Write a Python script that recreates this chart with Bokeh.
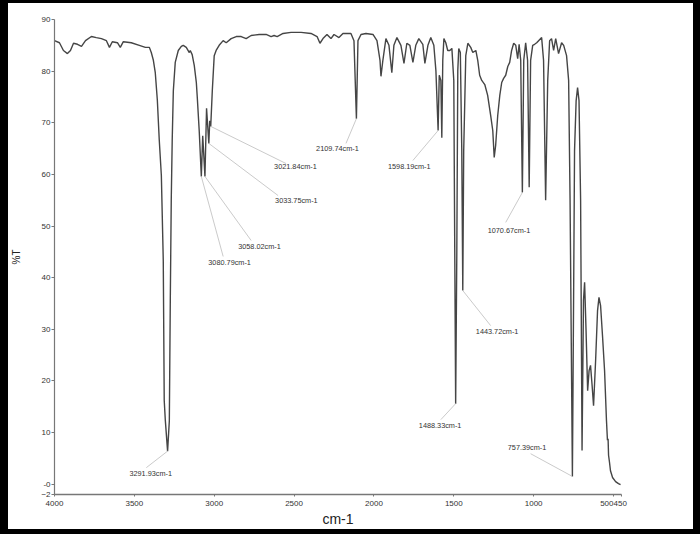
from bokeh.plotting import figure
from bokeh.models import Range1d, FixedTicker, ColumnDataSource
from bokeh.core.properties import value
from bokeh.embed import file_html
from bokeh.resources import INLINE

# ---- spectrum data (wavenumber cm-1, %T) ----
wavenumber = [4000, 3969, 3944, 3919, 3900, 3881, 3856, 3831, 3806, 3769, 3738, 3706, 3675, 3656,
              3638, 3606, 3588, 3569, 3519, 3469, 3431, 3406, 3394, 3381, 3369, 3356, 3344, 3331,
              3319, 3313, 3306, 3291.93, 3281, 3275, 3269, 3263, 3256, 3244, 3225, 3206, 3194,
              3175, 3156, 3150, 3138, 3125, 3112, 3106, 3094, 3080.79, 3072, 3058.02, 3048,
              3033.75, 3028, 3021.84, 3012, 3000, 2988, 2969, 2944, 2925, 2894, 2862, 2831, 2800,
              2769, 2719, 2675, 2644, 2625, 2606, 2569, 2519, 2456, 2394, 2356, 2338, 2319, 2294,
              2269, 2250, 2219, 2194, 2144, 2125, 2109.74, 2100, 2081, 2050, 2006, 1981, 1962,
              1956, 1944, 1925, 1906, 1888, 1875, 1856, 1831, 1812, 1794, 1775, 1756, 1738, 1719,
              1694, 1681, 1662, 1644, 1625, 1612, 1598.19, 1591, 1581, 1575, 1569, 1562, 1550,
              1538, 1525, 1512, 1500, 1494, 1488.33, 1481, 1475, 1469, 1459, 1450, 1443.72, 1438,
              1425, 1412, 1394, 1381, 1362, 1350, 1338, 1325, 1306, 1288, 1269, 1256, 1247, 1238,
              1225, 1212, 1200, 1188, 1175, 1162, 1150, 1138, 1125, 1112, 1100, 1091, 1081,
              1070.67, 1062, 1050, 1038, 1028, 1019, 1006, 994, 981, 969, 950, 938, 925, 912, 900,
              888, 875, 862, 844, 825, 812, 794, 781, 772, 757.39, 750, 744, 734, 725, 716, 706,
              697, 688, 681, 672, 662, 653, 644, 634, 625, 612, 600, 591, 581, 569, 556, 544, 538,
              534, 531, 525, 519, 506, 487, 469, 456]
transmittance = [85.9, 85.5, 84.0, 83.4, 84.0, 85.4, 85.2, 84.8, 85.9, 86.7, 86.5, 86.3, 85.9, 84.6,
                 85.7, 85.5, 84.6, 85.7, 85.5, 85.0, 84.6, 84.6, 83.6, 82.1, 79.7, 74.3, 66.6, 59.8,
                 43.3, 16.2, 12.3, 6.4, 12.3, 35.6, 55.0, 66.6, 76.2, 81.7, 84.0, 84.8, 85.0,
                 84.6, 83.6, 84.0, 83.2, 81.1, 77.8, 74.9, 68.5, 59.6, 67.5, 59.6, 72.8,
                 66.0, 70.4, 69.3, 76.2, 83.0, 84.0, 85.0, 85.9, 85.5, 86.3, 86.7, 86.7, 86.3,
                 86.9, 87.1, 87.1, 86.7, 86.9, 86.7, 87.3, 87.5, 87.5, 87.3, 86.7, 85.4, 86.3, 87.1,
                 86.3, 87.1, 86.5, 87.3, 87.3, 85.9, 70.8, 85.9, 87.1, 87.3, 87.1, 85.9, 82.1,
                 79.0, 82.1, 86.3, 85.0, 79.7, 85.0, 86.5, 85.0, 81.5, 85.4, 85.0, 81.7, 85.0, 86.3,
                 85.2, 81.5, 85.0, 86.5, 85.0, 80.1, 68.5, 79.2, 78.2, 67.1, 82.1, 86.3, 85.5,
                 84.0, 84.0, 84.4, 78.2, 45.3, 15.6, 45.3, 80.1, 84.4, 83.6, 64.6, 37.5, 64.6,
                 83.0, 85.4, 84.6, 83.6, 84.0, 82.1, 79.2, 78.2, 77.4, 75.3, 71.4, 68.5, 63.3, 65.6,
                 71.4, 75.3, 77.8, 78.6, 79.2, 80.9, 81.7, 84.0, 85.4, 85.0, 82.4, 85.2, 82.1,
                 56.5, 82.1, 85.5, 82.1, 57.5, 82.1, 85.0, 85.2, 85.5, 85.9, 86.5, 82.1, 55.0, 78.2, 85.9,
                 86.3, 84.0, 86.3, 83.4, 85.5, 85.0, 83.0, 78.2, 55.0, 1.5, 35.6, 64.6, 74.3, 76.8, 74.3, 55.0,
                 6.5, 35.6, 39.1, 29.8, 18.1, 22.0, 23.0, 19.1, 15.2, 24.0, 33.6, 36.2, 34.6, 28.8, 22.0, 12.3, 8.5,
                 8.8, 5.6, 4.2, 2.6, 1.3, 0.5, 0.1, -0.1]

# ---- peak annotations ----
peak_wn = [3291.93, 3080.79, 3058.02, 3033.75, 3021.84, 2109.74, 1598.19, 1488.33, 1443.72, 1070.67, 757.39]
peak_t = [6.4, 59.6, 59.6, 66.0, 69.3, 70.8, 68.5, 15.6, 37.5, 56.5, 1.5]
peak_labels = ["3291.93cm-1", "3080.79cm-1", "3058.02cm-1", "3033.75cm-1", "3021.84cm-1",
               "2109.74cm-1", "1598.19cm-1", "1488.33cm-1", "1443.72cm-1", "1070.67cm-1", "757.39cm-1"]

# label placement (layout, in axis units)
label_x = [3531, 3037, 2850, 2619, 2625, 2362, 1912, 1719, 1362, 1288, 1162]
label_y = [2.1, 42.9, 46.0, 54.9, 61.5, 65.0, 61.5, 11.4, 29.6, 49.1, 7.1]
leader_x = [3425, 2944, 2769, 2600, 2550, 2175, 1756, 1581, 1269, 1175, 1019]
leader_y = [3.2, 44.1, 47.2, 55.9, 62.1, 66.0, 62.7, 12.5, 30.7, 50.7, 5.9]

x_ticks = [4000, 3500, 3000, 2500, 2000, 1500, 1000, 500, 450]
x_tick_text = {500: "500450", 450: ""}
y_ticks = [90, 80, 70, 60, 50, 40, 30, 20, 10, 0, -2]
y_tick_text = {0: "-0"}

FONT = "Liberation Sans"

p = figure(width=685, height=526, output_backend="svg", toolbar_location=None,
           x_range=Range1d(4000, 450), y_range=Range1d(-2, 90),
           min_border_left=45, min_border_right=72, min_border_top=16, min_border_bottom=35)
p.background_fill_color = None
p.border_fill_color = None
p.styles = {"background-color": "white"}
p.outline_line_color = None
p.grid.visible = False

p.line(wavenumber, transmittance, line_color="#454545", line_width=1.4)

src = ColumnDataSource(dict(px=peak_wn, py=peak_t, lx=leader_x, ly=leader_y,
                            tx=label_x, ty=label_y, txt=peak_labels))
p.segment(x0="px", y0="py", x1="lx", y1="ly", source=src, line_color="#bdbdbd", line_width=0.8)
p.text(x="tx", y="ty", text="txt", source=src, text_font=value(FONT), text_font_size="7.3px",
       text_color="#333333", text_align="left", text_baseline="middle")

xa = p.xaxis[0]
xa.ticker = FixedTicker(ticks=x_ticks)
xa.major_label_overrides = x_tick_text
xa.axis_label = "cm-1"
xa.axis_label_text_font = FONT
xa.axis_label_text_font_style = "normal"
xa.axis_label_text_font_size = "14px"
xa.axis_label_text_color = "#222222"
xa.axis_label_standoff = 2
xa.major_label_text_font = FONT
xa.major_label_text_font_size = "8px"
xa.major_label_text_color = "#333333"
xa.major_label_standoff = 4
xa.major_tick_in = 0
xa.major_tick_out = 2
xa.minor_tick_out = 0
xa.minor_tick_in = 0
xa.axis_line_color = "#777777"
xa.axis_line_width = 1.5
xa.major_tick_line_color = "#777777"

ya = p.yaxis[0]
ya.ticker = FixedTicker(ticks=y_ticks)
ya.major_label_overrides = y_tick_text
ya.axis_label = "%T"
ya.axis_label_text_font = FONT
ya.axis_label_text_font_style = "normal"
ya.axis_label_text_font_size = "10px"
ya.axis_label_text_color = "#222222"
ya.axis_label_standoff = 16
ya.major_label_text_font = FONT
ya.major_label_text_font_size = "8px"
ya.major_label_text_color = "#333333"
ya.major_label_standoff = 1
ya.major_tick_in = 0
ya.major_tick_out = 3
ya.minor_tick_out = 0
ya.minor_tick_in = 0
ya.axis_line_color = "#777777"
ya.axis_line_width = 1.2
ya.major_tick_line_color = "#777777"

html = file_html(p, INLINE)
css = ("<style>html,body{background:#000000;}"
       "body{padding:3px 7px 5px 8px !important;}</style>")
html = html.replace("</head>", css + "</head>", 1)
open("out.html", "w").write(html)
